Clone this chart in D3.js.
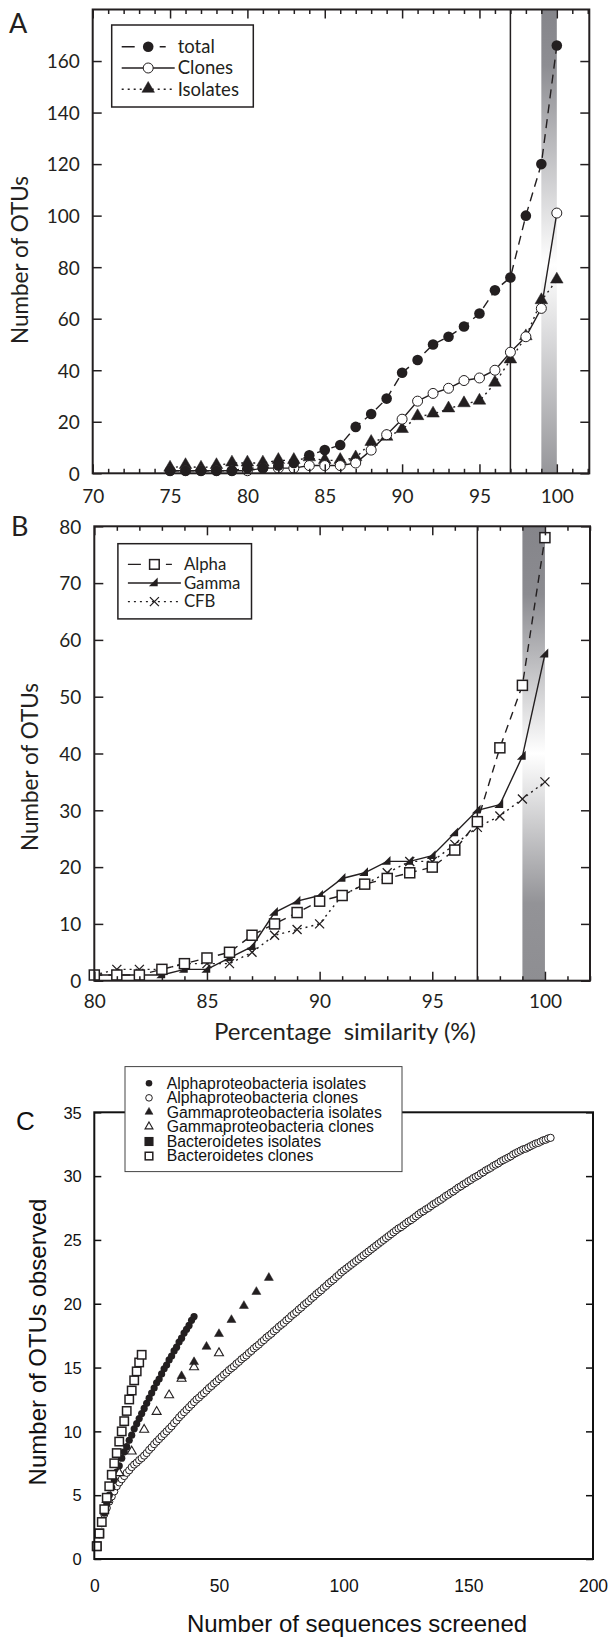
<!DOCTYPE html>
<html>
<head>
<meta charset="utf-8">
<script src="https://cdn.jsdelivr.net/npm/d3@7"></script>
<style>
  body { margin: 0; background: #fff; }
  svg { display: block; }
</style>
</head>
<body>
<svg id="chart" width="609" height="1641"></svg>
<script>
// ---- panel A : OTUs vs percentage similarity
var simA = [75,76,77,78,79,80,81,82,83,84,85,86,87,88,89,90,91,92,93,94,95,96,97,98,99,100];
var totalA = [1,1,1,1,1,2,2,3,4,7,9,11,18,23,29,39,44,50,53,57,62,71,76,100,120,166];
var clonesA = [1,1,1,1,1,1,2,2,2,3,3,3,4,9,15,21,28,31,33,36,37,40,47,53,64,101];
var isolatesA = [2,3,2,3,4,4,4,5,5,6,5,5,6,12,14,17,22,23,25,27,28,35,44,53,67,75];
var ticksXA = [70,75,80,85,90,95,100];
var ticksYA = [0,20,40,60,80,100,120,140,160];

// ---- panel B : by class
var simB = [80,81,82,83,84,85,86,87,88,89,90,91,92,93,94,95,96,97,98,99,100];
var alphaB = [1,1,1,2,3,4,5,8,10,12,14,15,17,18,19,20,23,28,41,52,78];
var gammaB = [1,1,1,1,2,2,4,6,12,14,15,18,19,21,21,22,26,30,31,39.5,57.5];
var cfbB = [1,2,2,2,3,3,3,5,8,9,10,15,17,19,21,21,24,27,29,32,35];
var ticksXB = [80,85,90,95,100];
var ticksYB = [0,10,20,30,40,50,60,70,80];

// ---- panel C : rarefaction curves (x = sequences screened)
var alphaIsoC = [1.0,1.9,2.8,3.6,4.3,5.0,5.6,6.2,6.8,7.3,7.9,8.4,8.8,9.3,9.7,10.2,10.6,11.0,11.4,11.8,
  12.2,12.6,13.0,13.4,13.8,14.1,14.5,14.9,15.2,15.6,15.9,16.3,16.6,17.0,17.3,17.7,18.0,18.3,18.7,19.0];
var alphaCloC = [1.00,1.95,2.80,3.50,4.00,4.50,4.90,5.30,5.70,6.00,
  6.25,6.50,6.75,6.95,7.20,7.40,7.55,7.75,7.90,8.10,
  8.30,8.55,8.75,9.00,9.20,9.40,9.60,9.80,10.00,10.20,
  10.40,10.65,10.85,11.10,11.30,11.50,11.70,11.90,12.10,12.30,
  12.50,12.65,12.85,13.00,13.20,13.40,13.55,13.75,13.90,14.10,
  14.25,14.45,14.60,14.80,14.95,15.10,15.30,15.45,15.65,15.80,
  15.95,16.15,16.30,16.50,16.65,16.80,17.00,17.15,17.35,17.50,
  17.65,17.85,18.00,18.20,18.35,18.50,18.70,18.85,19.05,19.20,
  19.35,19.55,19.70,19.90,20.05,20.20,20.40,20.55,20.75,20.90,
  21.05,21.25,21.40,21.60,21.75,21.90,22.10,22.25,22.45,22.60,
  22.75,22.90,23.05,23.20,23.35,23.50,23.65,23.80,23.95,24.10,
  24.25,24.40,24.55,24.70,24.85,25.00,25.15,25.30,25.45,25.60,
  25.75,25.90,26.00,26.15,26.30,26.45,26.55,26.70,26.85,27.00,
  27.15,27.25,27.40,27.50,27.65,27.80,27.90,28.05,28.15,28.30,
  28.45,28.55,28.70,28.80,28.95,29.10,29.20,29.35,29.45,29.60,
  29.70,29.85,29.95,30.05,30.20,30.30,30.45,30.55,30.65,30.80,
  30.90,31.00,31.15,31.25,31.35,31.45,31.55,31.70,31.80,31.90,
  32.00,32.10,32.15,32.25,32.35,32.45,32.55,32.60,32.70,32.80,
  32.85,32.95,33.00];
var gammaIsoN = [35,40,45,50,55,60,65,70];
var gammaIsoC = [14.3,15.4,16.6,17.6,18.7,19.8,20.9,22.0];
var gammaCloN = [5,10,15,20,25,30,35,40,50];
var gammaCloC = [4.6,6.7,8.4,10.1,11.5,12.8,14.1,15.0,16.1];
var bactIsoC = [1,2];
var bactCloC = [1.0,2.0,2.9,3.9,4.8,5.7,6.6,7.5,8.3,9.2,10.0,10.8,11.6,12.5,13.2,14.0,14.7,15.4,16.0];
var ticksXC = [0,50,100,150,200];
var ticksYC = [0,5,10,15,20,25,30,35];

var ink = "#231f20";
var fontAB = "Lato, 'Open Sans', sans-serif";
var fontC = "'Liberation Sans', Arial, sans-serif";

var svg = d3.select("#chart");

var defs = svg.append("defs");
function bandGradient(id, stops) {
  var g = defs.append("linearGradient").attr("id", id)
    .attr("x1", 0).attr("y1", 0).attr("x2", 0).attr("y2", 1);
  stops.forEach(function(s) {
    g.append("stop").attr("offset", s[0]).attr("stop-color", s[1]);
  });
}
bandGradient("bandA", [[0,"#85858a"],[0.12,"#8d8d92"],[0.55,"#ffffff"],[1,"#96969a"]]);
bandGradient("bandB", [[0,"#85858a"],[0.15,"#8b8b90"],[0.5,"#ffffff"],[0.83,"#939397"],[1,"#8e8e92"]]);

// marker drawing
function marker(g, type, x, y, s) {
  if (type == "dot") {
    g.append("circle").attr("cx", x).attr("cy", y).attr("r", s).attr("fill", ink);
  } else if (type == "ring") {
    g.append("circle").attr("cx", x).attr("cy", y).attr("r", s)
      .attr("fill", "#fff").attr("stroke", ink).attr("stroke-width", 1);
  } else if (type == "tri" || type == "triOpen") {
    g.append("path").attr("transform", "translate(" + x + "," + (y - s * 0.1) + ")")
      .attr("d", d3.symbol().type(d3.symbolTriangle).size(s * s * 1.9)())
      .attr("fill", type == "tri" ? ink : "#fff")
      .attr("stroke", ink).attr("stroke-width", type == "tri" ? 0.5 : 1.1);
  } else if (type == "sq" || type == "sqOpen") {
    g.append("rect").attr("x", x - s).attr("y", y - s).attr("width", 2 * s).attr("height", 2 * s)
      .attr("fill", type == "sq" ? ink : "#fff").attr("stroke", ink).attr("stroke-width", 1.5);
  } else if (type == "wedge") {
    g.append("path")
      .attr("d", "M" + (x - s) + "," + (y + s * 0.6) + "L" + (x + s * 0.6) + "," + (y - s) + "L" + (x + s * 0.6) + "," + (y + s * 0.6) + "Z")
      .attr("fill", ink);
  } else if (type == "cross") {
    g.append("path")
      .attr("d", "M" + (x - s) + "," + (y - s) + "L" + (x + s) + "," + (y + s) + "M" + (x - s) + "," + (y + s) + "L" + (x + s) + "," + (y - s))
      .attr("stroke", ink).attr("stroke-width", 1.3).attr("fill", "none");
  }
}

function series(g, xs, ys, x, y, dash, type, s) {
  var line = d3.line().x(function(d) { return x(d[0]); }).y(function(d) { return y(d[1]); });
  var pts = xs.map(function(v, i) { return [v, ys[i]]; });
  g.append("path").datum(pts).attr("d", line).attr("fill", "none")
    .attr("stroke", ink).attr("stroke-width", 1.4).attr("stroke-dasharray", dash);
  pts.forEach(function(p) { marker(g, type, x(p[0]), y(p[1]), s); });
}

// frame with inward ticks, similarity panels
function frameAB(g, x, y, majorX, minorX, ticksY, labelY) {
  var x0 = x.range()[0], x1 = x.range()[1], y0 = y.range()[0], y1 = y.range()[1];
  var noLabel = function() { return ""; };
  g.append("g").attr("transform", "translate(0," + y0 + ")")
    .call(d3.axisTop(x).tickValues(minorX).tickSize(4.5).tickFormat(noLabel));
  g.append("g").attr("transform", "translate(0," + y0 + ")")
    .call(d3.axisTop(x).tickValues(majorX).tickSize(9).tickFormat(noLabel));
  g.append("g").attr("transform", "translate(0," + y1 + ")")
    .call(d3.axisBottom(x).tickValues(minorX).tickSize(4.5).tickFormat(noLabel));
  g.append("g").attr("transform", "translate(0," + y1 + ")")
    .call(d3.axisBottom(x).tickValues(majorX).tickSize(9).tickFormat(noLabel));
  g.append("g").attr("transform", "translate(" + x0 + ",0)")
    .call(d3.axisRight(y).tickValues(ticksY).tickSize(9).tickFormat(noLabel));
  g.append("g").attr("transform", "translate(" + x1 + ",0)")
    .call(d3.axisLeft(y).tickValues(ticksY).tickSize(9).tickFormat(noLabel));
  // labels
  g.append("g").attr("transform", "translate(0," + y0 + ")")
    .call(d3.axisBottom(x).tickValues(majorX).tickSize(0))
    .call(function(a) {
      a.select(".domain").remove();
      a.selectAll("text").attr("y", labelY).attr("dy", null)
        .attr("font-family", fontAB).attr("font-size", 19).attr("fill", ink);
    });
  g.append("g").attr("transform", "translate(" + x0 + ",0)")
    .call(d3.axisLeft(y).tickValues(ticksY).tickSize(0))
    .call(function(a) {
      a.select(".domain").remove();
      a.selectAll("text").attr("x", -13).attr("dy", "0.36em")
        .attr("font-family", fontAB).attr("font-size", 19).attr("fill", ink);
    });
  g.selectAll(".domain").remove();
  g.selectAll(".tick line").attr("stroke", ink).attr("stroke-width", 1.5);
  g.append("rect").attr("x", x0).attr("y", y1).attr("width", x1 - x0).attr("height", y0 - y1)
    .attr("fill", "none").attr("stroke", ink).attr("stroke-width", 2);
}

function legendAB(g, x, y, w, h, rows, dy, fs) {
  g.append("rect").attr("x", x).attr("y", y).attr("width", w).attr("height", h)
    .attr("fill", "#fff").attr("stroke", ink).attr("stroke-width", 1.5);
  rows.forEach(function(r, i) {
    var cy = y + dy[0] + i * dy[1];
    g.append("line").attr("x1", x + 10).attr("x2", x + 63).attr("y1", cy).attr("y2", cy)
      .attr("stroke", ink).attr("stroke-width", 1.4).attr("stroke-dasharray", r.dash);
    marker(g, r.type, x + 36.5, cy, r.s);
    g.append("text").attr("x", x + 66).attr("y", cy + fs * 0.35).text(r.name)
      .attr("font-family", fontAB).attr("font-size", fs).attr("fill", ink);
  });
}

var minor = function(a, b) { var t = []; for (var v = a; v <= b; v++) if (v % 5) t.push(v); return t; };

// ---------- panel A
var xA = d3.scaleLinear().domain([70, 102.1]).range([92.7, 589.3]);
var yA = d3.scaleLinear().domain([0, 180]).range([473.3, 9.5]);
var gA = svg.append("g");
gA.append("rect").attr("x", xA(99)).attr("y", yA(180)).attr("width", xA(100) - xA(99))
  .attr("height", yA(0) - yA(180)).attr("fill", "url(#bandA)");
gA.append("line").attr("x1", xA(97)).attr("x2", xA(97)).attr("y1", yA(0)).attr("y2", yA(180))
  .attr("stroke", ink).attr("stroke-width", 1.5);
series(gA, simA, isolatesA, xA, yA, "2,4", "tri", 6);
series(gA, simA, clonesA, xA, yA, null, "ring", 5);
series(gA, simA, totalA, xA, yA, "9,6", "dot", 5.3);
frameAB(gA, xA, yA, ticksXA, minor(70, 102), ticksYA, 30);
legendAB(gA, 111.7, 25, 141.6, 82, [
  { name: "total", dash: "13,25,6,100", type: "dot", s: 5.3 },
  { name: "Clones", dash: null, type: "ring", s: 5 },
  { name: "Isolates", dash: "2,4", type: "tri", s: 6 }
], [21.7, 21.3], 18.5);
svg.append("text").attr("x", 9).attr("y", 33).text("A")
  .attr("font-family", fontAB).attr("font-size", 27).attr("fill", ink);
svg.append("text").attr("transform", "translate(28,260) rotate(-90)").attr("text-anchor", "middle")
  .text("Number of OTUs").attr("font-family", fontAB).attr("font-size", 22.5).attr("fill", ink);

// ---------- panel B
var xB = d3.scaleLinear().domain([80, 102]).range([94.3, 590]);
var yB = d3.scaleLinear().domain([0, 80]).range([980.7, 526.3]);
var gB = svg.append("g");
gB.append("rect").attr("x", xB(99)).attr("y", yB(80)).attr("width", xB(100) - xB(99))
  .attr("height", yB(0) - yB(80)).attr("fill", "url(#bandB)");
gB.append("line").attr("x1", xB(97)).attr("x2", xB(97)).attr("y1", yB(0)).attr("y2", yB(80))
  .attr("stroke", ink).attr("stroke-width", 1.5);
series(gB, simB, cfbB, xB, yB, "2,4", "cross", 4.5);
series(gB, simB, gammaB, xB, yB, null, "wedge", 5.5);
series(gB, simB, alphaB, xB, yB, "8,6", "sqOpen", 5);
frameAB(gB, xB, yB, ticksXB, minor(80, 102), ticksYB, 27);
legendAB(gB, 117.9, 543.7, 133.6, 75.2, [
  { name: "Alpha", dash: "13,25,6,100", type: "sqOpen", s: 4.8 },
  { name: "Gamma", dash: null, type: "wedge", s: 5.5 },
  { name: "CFB", dash: "2,4", type: "cross", s: 4.5 }
], [20.7, 18.6], 16.8);
svg.append("text").attr("x", 11).attr("y", 536).text("B")
  .attr("font-family", fontAB).attr("font-size", 27).attr("fill", ink);
svg.append("text").attr("transform", "translate(38,767) rotate(-90)").attr("text-anchor", "middle")
  .text("Number of OTUs").attr("font-family", fontAB).attr("font-size", 22.5).attr("fill", ink);
svg.append("text").attr("x", 345).attr("y", 1040).attr("text-anchor", "middle")
  .attr("xml:space", "preserve").style("white-space", "pre")
  .text("Percentage  similarity (%)").attr("font-family", fontAB).attr("font-size", 24).attr("fill", ink);

// ---------- panel C
var xC = d3.scaleLinear().domain([0, 200]).range([94.3, 593]);
var yC = d3.scaleLinear().domain([0, 35]).range([1559, 1112.3]);
var gC = svg.append("g");
var idx = function(arr) { return arr.map(function(d, i) { return i + 1; }); };
function scatter(xs, ys, type, s) {
  xs.forEach(function(v, i) { marker(gC, type, xC(v), yC(ys[i]), s); });
}
scatter(idx(alphaCloC), alphaCloC, "ring", 3.6);
scatter(idx(alphaIsoC), alphaIsoC, "dot", 3.6);
scatter(gammaCloN, gammaCloC, "triOpen", 4.3);
scatter(gammaIsoN, gammaIsoC, "tri", 4.3);
scatter(idx(bactIsoC), bactIsoC, "sq", 4.2);
scatter(idx(bactCloC), bactCloC, "sqOpen", 4.2);

gC.append("g").attr("transform", "translate(" + xC(0) + ",0)")
  .call(d3.axisRight(yC).tickValues(ticksYC).tickSize(7).tickFormat(function() { return ""; }));
gC.append("g").attr("transform", "translate(" + xC(200) + ",0)")
  .call(d3.axisLeft(yC).tickValues(ticksYC).tickSize(7).tickFormat(function() { return ""; }));
gC.append("g").attr("transform", "translate(" + xC(0) + ",0)")
  .call(d3.axisLeft(yC).tickValues(ticksYC).tickSize(0))
  .call(function(a) {
    a.selectAll("text").attr("x", -12.5).attr("dy", "0.35em")
      .attr("font-family", fontC).attr("font-size", 16.5).attr("fill", "#111");
  });
gC.append("g").attr("transform", "translate(0," + yC(0) + ")")
  .call(d3.axisBottom(xC).tickValues(ticksXC).tickSize(0))
  .call(function(a) {
    a.selectAll("text").attr("y", 33).attr("dy", null)
      .attr("font-family", fontC).attr("font-size", 17.5).attr("fill", "#111");
  });
gC.selectAll(".domain").remove();
gC.selectAll(".tick line").attr("stroke", "#111").attr("stroke-width", 1.5);
gC.append("rect").attr("x", xC(0)).attr("y", yC(35)).attr("width", xC(200) - xC(0))
  .attr("height", yC(0) - yC(35)).attr("fill", "none").attr("stroke", "#111").attr("stroke-width", 2);

var legC = [
  ["dot", "Alphaproteobacteria isolates"],
  ["ring", "Alphaproteobacteria clones"],
  ["tri", "Gammaproteobacteria isolates"],
  ["triOpen", "Gammaproteobacteria clones"],
  ["sq", "Bacteroidetes isolates"],
  ["sqOpen", "Bacteroidetes clones"]
];
gC.append("rect").attr("x", 125).attr("y", 1066.6).attr("width", 277).attr("height", 105)
  .attr("fill", "#fff").attr("stroke", "#444").attr("stroke-width", 1);
legC.forEach(function(r, i) {
  var cy = 1083.3 + i * 14.55;
  marker(gC, r[0], 149, cy, r[0] == "dot" || r[0] == "ring" ? 3.3 : 3.8);
  gC.append("text").attr("x", 166.7).attr("y", cy + 5.4).text(r[1])
    .attr("font-family", fontC).attr("font-size", 15.8).attr("fill", "#111");
});
svg.append("text").attr("x", 16).attr("y", 1130).text("C")
  .attr("font-family", fontC).attr("font-size", 26).attr("fill", "#111");
svg.append("text").attr("transform", "translate(46,1342) rotate(-90)").attr("text-anchor", "middle")
  .text("Number of OTUs observed").attr("font-family", fontC).attr("font-size", 24).attr("fill", "#111");
svg.append("text").attr("x", 357).attr("y", 1632).attr("text-anchor", "middle")
  .text("Number of sequences screened").attr("font-family", fontC).attr("font-size", 24).attr("fill", "#111");
</script>
</body>
</html>
